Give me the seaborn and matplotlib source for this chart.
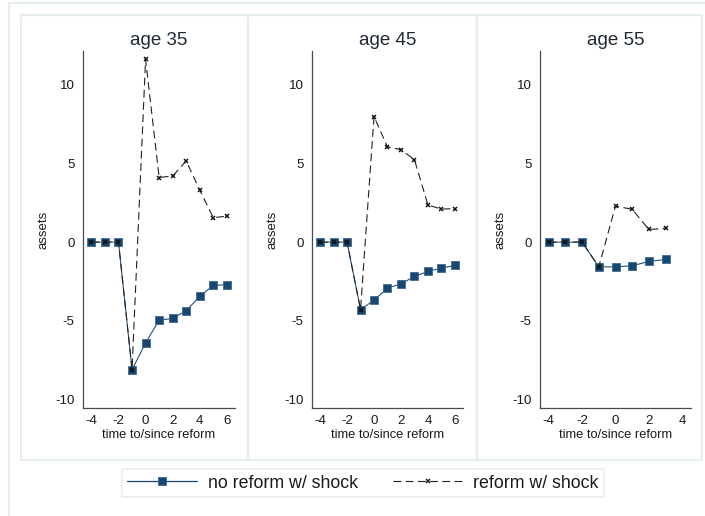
import matplotlib
matplotlib.use("Agg")
import matplotlib.pyplot as plt
from matplotlib.patches import Rectangle
from matplotlib.lines import Line2D
import seaborn as sns
import pandas as pd

sns.set_style("white")
plt.rcParams['font.family'] = ['Liberation Sans', 'DejaVu Sans']

# ---- data ----
panel_titles = ["age 35", "age 45", "age 55"]
series_names = ["no reform w/ shock", "reform w/ shock"]

t_35 = [-4, -3, -2, -1, 0, 1, 2, 3, 4, 5, 6]
noreform_35 = [0, 0, 0, -8.1, -6.4, -4.95, -4.85, -4.35, -3.45, -2.75, -2.7]
reform_35 = [0, 0, 0, -8.1, 11.6, 4.1, 4.2, 5.15, 3.3, 1.55, 1.65]

t_45 = [-4, -3, -2, -1, 0, 1, 2, 3, 4, 5, 6]
noreform_45 = [0, 0, 0, -4.28, -3.69, -2.92, -2.65, -2.18, -1.86, -1.65, -1.48]
reform_45 = [0, 0, 0, -4.28, 7.97, 6.04, 5.87, 5.23, 2.35, 2.1, 2.12]

t_55 = [-4, -3, -2, -1, 0, 1, 2, 3]
noreform_55 = [0, 0, 0, -1.57, -1.57, -1.5, -1.23, -1.1]
reform_55 = [0, 0, 0, -1.57, 2.29, 2.08, 0.8, 0.87]

x_ticks_wide = [-4, -2, 0, 2, 4, 6]
x_ticks_narrow = [-4, -2, 0, 2, 4]
y_ticks = [-10, -5, 0, 5, 10]

panels = [
    (t_35, noreform_35, reform_35, x_ticks_wide, (-4.62, 6.6)),
    (t_45, noreform_45, reform_45, x_ticks_wide, (-4.6, 6.6)),
    (t_55, noreform_55, reform_55, x_ticks_narrow, (-4.52, 4.52)),
]

W, H = 705, 516
fig = plt.figure(figsize=(W / 100, H / 100), dpi=100)

frame_col = "#e6eeee"
# outer frame
fig.add_artist(Rectangle((9 / W, -0.02), 1.05, 1 - 3 / H + 0.02, transform=fig.transFigure,
                         fill=False, edgecolor=frame_col, lw=1.6))
# panel frames
for x0, x1 in [(21, 248), (248, 477), (477, 702)]:
    fig.add_artist(Rectangle((x0 / W, 1 - 460 / H), (x1 - x0) / W, (460 - 15) / H,
                             transform=fig.transFigure, fill=False, edgecolor=frame_col, lw=1.6))

axes_px = [(83, 235), (312, 463), (540, 691)]
navy = "#1a476f"
ax_col = "#4a4a4a"
txt_col = "#1a1a1a"
dash_col = "#222222"

for (px0, px1), title, (t, nr, rf, xt, xl) in zip(axes_px, panel_titles, panels):
    ax = fig.add_axes([px0 / W, 1 - 407.5 / H, (px1 - px0) / W, (407.5 - 51.5) / H])
    df_nr = pd.DataFrame({"t": t, "assets": nr})
    df_rf = pd.DataFrame({"t": t, "assets": rf})
    sns.lineplot(data=df_nr, x="t", y="assets", ax=ax, color=navy, lw=0.75,
                 marker="s", markersize=6.3, markeredgecolor="#3d6a96", markeredgewidth=0.6,
                 label=series_names[0], legend=False)
    sns.lineplot(data=df_rf, x="t", y="assets", ax=ax, color=dash_col, lw=0.8,
                 linestyle=(0, (7, 4)), marker="x", markersize=3.5, markeredgewidth=1.1,
                 markeredgecolor="#111111", label=series_names[1], legend=False)
    ax.set_xlim(*xl)
    ax.set_ylim(-10.5, 12.1)
    ax.set_xticks(xt)
    ax.set_xticklabels([str(v) for v in xt])
    ax.set_yticks(y_ticks)
    ax.set_yticklabels([str(v) for v in y_ticks])
    sns.despine(ax=ax)
    for s in ["left", "bottom"]:
        ax.spines[s].set_color(ax_col)
        ax.spines[s].set_linewidth(0.9)
    ax.tick_params(axis="both", direction="out", length=4, width=0.9, color=ax_col,
                   labelsize=9.6, labelcolor=txt_col, pad=2)
    ax.tick_params(axis="x", pad=1.5)
    ax.set_xlabel("time to/since reform", fontsize=9.3, color=txt_col, labelpad=1.5)
    ax.set_ylabel("assets", fontsize=9.5, color=txt_col, labelpad=4)
    ax.set_title(title, fontsize=13.5, color="#1f2a36", pad=5)
    ax.set_facecolor("white")
    ax.patch.set_alpha(0)

handles = [
    Line2D([], [], color=navy, lw=0.9, marker="s", markersize=6,
           markeredgecolor="#3d6a96", markeredgewidth=0.6),
    Line2D([], [], color=dash_col, lw=0.8, linestyle=(0, (7, 4)), marker="x",
           markersize=3.5, markeredgewidth=1.1),
]
leg = fig.legend(handles, series_names, loc="center", bbox_to_anchor=(363 / W, 1 - 483 / H),
                 ncol=2, frameon=True, fancybox=False, fontsize=12.8, handlelength=3.9,
                 handletextpad=0.62, columnspacing=2.0, borderpad=0.3, borderaxespad=0)
leg.get_frame().set_edgecolor(frame_col)
leg.get_frame().set_linewidth(1.4)
for tx in leg.get_texts():
    tx.set_color(txt_col)

fig.savefig("out.png", dpi=100, facecolor="white")
